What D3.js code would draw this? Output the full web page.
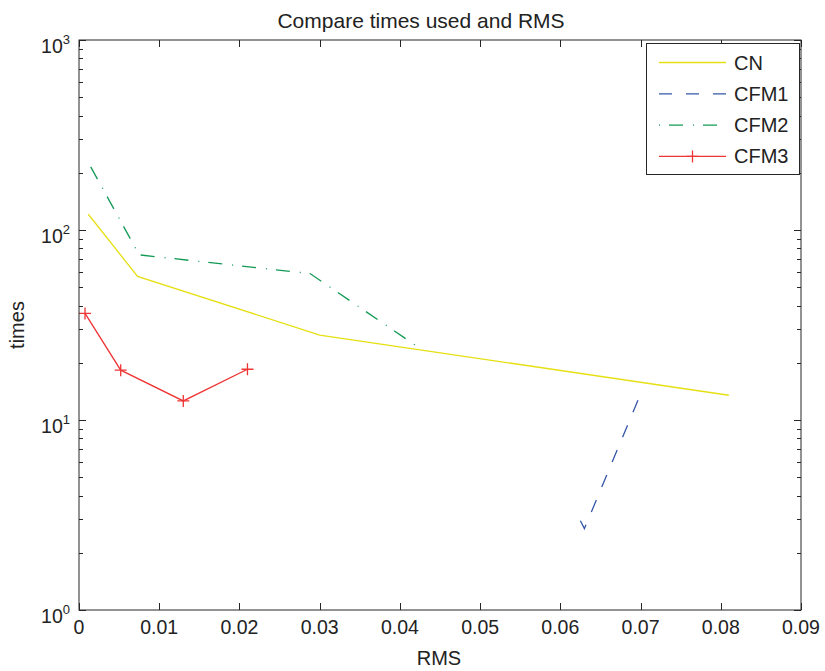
<!DOCTYPE html>
<html>
<head>
<script src="https://d3js.org/d3.v7.min.js"></script>
<style>
  body { margin: 0; background: #fff; }
  text { font-family: "Liberation Sans", Arial, sans-serif; fill: #222; }
</style>
</head>
<body>
<svg width="825" height="671"></svg>
<script>
// data
var xTicks = [0, 0.01, 0.02, 0.03, 0.04, 0.05, 0.06, 0.07, 0.08, 0.09];
var yDecades = [1, 10, 100, 1000];
var yExps = ["0", "1", "2", "3"];

var cnX = [0.00116, 0.0073, 0.0300, 0.0810];
var cnY = [121, 57, 28, 13.5];
var cfm1X = [0.0625, 0.0630, 0.0700];
var cfm1Y = [2.95, 2.68, 13.7];
var cfm2X = [0.00146, 0.0075, 0.0288, 0.0419];
var cfm2Y = [215, 74, 59, 24.8];
var cfm3X = [0.00075, 0.0052, 0.0130, 0.0210];
var cfm3Y = [36.4, 18.3, 12.6, 18.5];

var names = ["CN", "CFM1", "CFM2", "CFM3"];
var colors = ["#e6df12", "#3556a8", "#129a55", "#ee3434"];
var dashes = [null, "13,14", "14,10,1,9", null];

var svg = d3.select("svg");
var pL = 79, pR = 801, pT = 40, pB = 610;

var x = d3.scaleLinear().domain([0, 0.09]).range([pL, pR]);
var y = d3.scaleLog().domain([1, 1000]).range([pB, pT]);

// title and axis labels
svg.append("text").attr("x", 421).attr("y", 28).attr("text-anchor", "middle")
  .style("font-size", "21px").text("Compare times used and RMS");
svg.append("text").attr("x", 439).attr("y", 665).attr("text-anchor", "middle")
  .style("font-size", "20px").text("RMS");
svg.append("text").attr("transform", "translate(24,325) rotate(-90)")
  .attr("text-anchor", "middle").style("font-size", "20px").text("times");

// series
var series = [
  { xs: cnX, ys: cnY }, { xs: cfm1X, ys: cfm1Y },
  { xs: cfm2X, ys: cfm2Y }, { xs: cfm3X, ys: cfm3Y }
];
var line = d3.line().x(function(d) { return x(d[0]); }).y(function(d) { return y(d[1]); });

series.forEach(function(s, i) {
  var pts = d3.zip(s.xs, s.ys);
  svg.append("path").attr("d", line(pts))
    .attr("fill", "none").attr("stroke", colors[i]).attr("stroke-width", 1.3)
    .attr("stroke-dasharray", dashes[i]);
  if (i == 3) {
    pts.forEach(function(p) {
      var cx = x(p[0]), cy = y(p[1]);
      svg.append("path")
        .attr("d", "M" + (cx - 6) + "," + cy + "H" + (cx + 6) + "M" + cx + "," + (cy - 6) + "V" + (cy + 6))
        .attr("stroke", colors[i]).attr("stroke-width", 1.3);
    });
  }
});

// axes box and ticks
var ax = svg.append("g").attr("stroke", "#262626").attr("stroke-width", 1).attr("fill", "none");
ax.append("rect").attr("x", pL).attr("y", pT).attr("width", pR - pL).attr("height", pB - pT);

xTicks.forEach(function(t) {
  var px = Math.round(x(t)) + 0.5;
  ax.append("line").attr("x1", px).attr("x2", px).attr("y1", pB).attr("y2", pB - 7);
  ax.append("line").attr("x1", px).attr("x2", px).attr("y1", pT).attr("y2", pT + 7);
  svg.append("text").attr("x", x(t)).attr("y", 634).attr("text-anchor", "middle")
    .style("font-size", "19.5px").text(t === 0 ? "0" : d3.format(".2f")(t));
});

yDecades.forEach(function(d, i) {
  var py = Math.round(y(d)) + 0.5;
  ax.append("line").attr("x1", pL).attr("x2", pL + 7).attr("y1", py).attr("y2", py);
  ax.append("line").attr("x1", pR).attr("x2", pR - 7).attr("y1", py).attr("y2", py);
  if (i < 3) {
    for (var m = 2; m <= 9; m++) {
      var my = Math.round(y(d * m)) + 0.5;
      ax.append("line").attr("x1", pL).attr("x2", pL + 4).attr("y1", my).attr("y2", my);
      ax.append("line").attr("x1", pR).attr("x2", pR - 4).attr("y1", my).attr("y2", my);
    }
  }
  var lab = svg.append("text").attr("x", 70).attr("y", y(d) + 12.5)
    .attr("text-anchor", "end").style("font-size", "19.5px");
  lab.append("tspan").text("10");
  lab.append("tspan").attr("dy", -9).style("font-size", "13px").text(yExps[i]);
});

// legend
var lg = svg.append("g");
lg.append("rect").attr("x", 646.5).attr("y", 43.5).attr("width", 153).attr("height", 131)
  .attr("fill", "#fff").attr("stroke", "#262626");
names.forEach(function(n, i) {
  var ly = 62.5 + i * 31.3;
  lg.append("line").attr("x1", 659).attr("x2", 726).attr("y1", ly).attr("y2", ly)
    .attr("stroke", colors[i]).attr("stroke-width", 1.3)
    .attr("stroke-dasharray", dashes[i])
    .attr("stroke-dashoffset", i == 2 ? 24 : 0);
  if (i == 3) {
    lg.append("path").attr("d", "M686.5," + ly + "h12M692.5," + (ly - 6) + "v12")
      .attr("stroke", colors[i]).attr("stroke-width", 1.3);
  }
  lg.append("text").attr("x", 734).attr("y", ly + 7).style("font-size", "20px").text(n);
});
</script>
</body>
</html>
